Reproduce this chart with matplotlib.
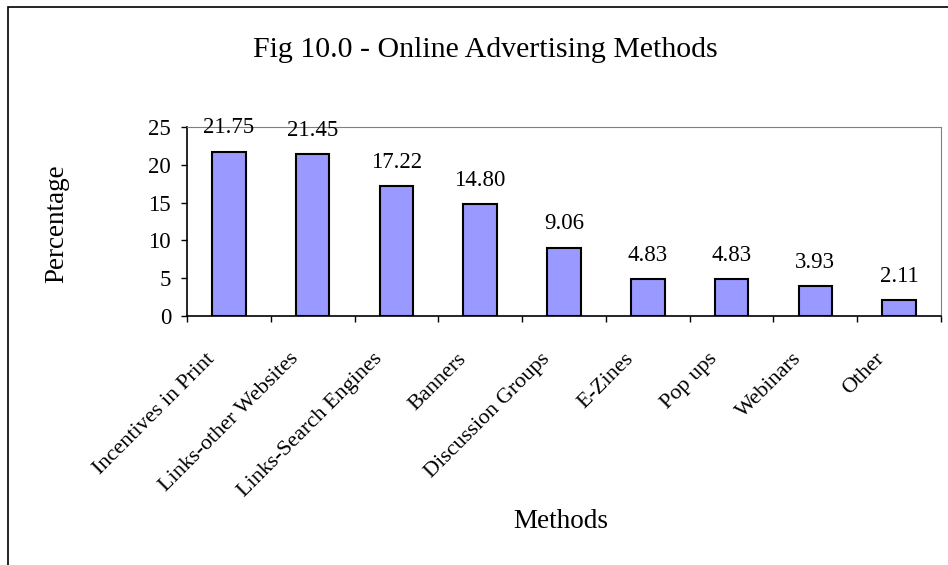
import matplotlib
matplotlib.use("Agg")
import matplotlib.pyplot as plt
import matplotlib.transforms as mtransforms
from matplotlib.patches import Rectangle

# Data
methods = ['Incentives in Print', 'Links-other Websites', 'Links-Search Engines',
           'Banners', 'Discussion Groups', 'E-Zines', 'Pop ups', 'Webinars', 'Other']
percentages = [21.75, 21.45, 17.22, 14.80, 9.06, 4.83, 4.83, 3.93, 2.11]
y_ticks = [0, 5, 10, 15, 20, 25]

plt.rcParams['font.family'] = ['Liberation Serif', 'DejaVu Serif']

fig = plt.figure(figsize=(9.48, 5.65), dpi=100)
ax = fig.add_axes([187 / 948, 1 - 316 / 565, (941 - 187) / 948, (316 - 127) / 565])

x = range(len(methods))
ax.bar(x, percentages, width=0.4, color='#9999FF', edgecolor='black', linewidth=1.5)

# value labels above bars
for xi, v in zip(x, percentages):
    ax.annotate(f"{v:.2f}", (xi, v), xytext=(0, 17), textcoords='offset points',
                ha='center', va='center', fontsize=16.5)

ax.set_xlim(-0.5, len(methods) - 0.5)
ax.set_ylim(0, 25)
ax.set_yticks(y_ticks)
ax.tick_params(axis='y', labelsize=16.5, length=4.5, direction='out', width=1, pad=7)

# category ticks sit between bars
ax.set_xticks([i - 0.5 for i in range(len(methods) + 1)])
ax.set_xticklabels([])
ax.tick_params(axis='x', length=4.5, direction='out', width=1)
ax.set_xticks(list(x), minor=True)
labels = ax.set_xticklabels(methods, minor=True, rotation=45, ha='right',
                            va='center', rotation_mode='anchor', fontsize=16)
ax.tick_params(axis='x', which='minor', length=0, pad=0)
shift = mtransforms.ScaledTranslation(-17 / 100, -40 / 100, fig.dpi_scale_trans)
for lab in labels:
    lab.set_transform(lab.get_transform() + shift)

for side in ['top', 'right']:
    ax.spines[side].set_color('#808080')
for side in ['left', 'bottom']:
    ax.spines[side].set_color('black')
    ax.spines[side].set_linewidth(1.2)

# Labels and title
fig.text(485 / 948, 1 - 50 / 565, "Fig 10.0 - Online Advertising Methods",
         ha='center', va='center', fontsize=21.5)
fig.text(57 / 948, 1 - 224 / 565, "Percentage", rotation=90,
         ha='center', va='center', fontsize=19.5)
fig.text(561 / 948, 1 - 522 / 565, "Methods", ha='center', va='center', fontsize=19.5)

# chart border
fig.patches.append(Rectangle((8 / 948, -0.1), 1.2, 1.1 - 7 / 565, transform=fig.transFigure,
                             fill=False, edgecolor='black', linewidth=1.2))

fig.savefig("out.png", dpi=100)
